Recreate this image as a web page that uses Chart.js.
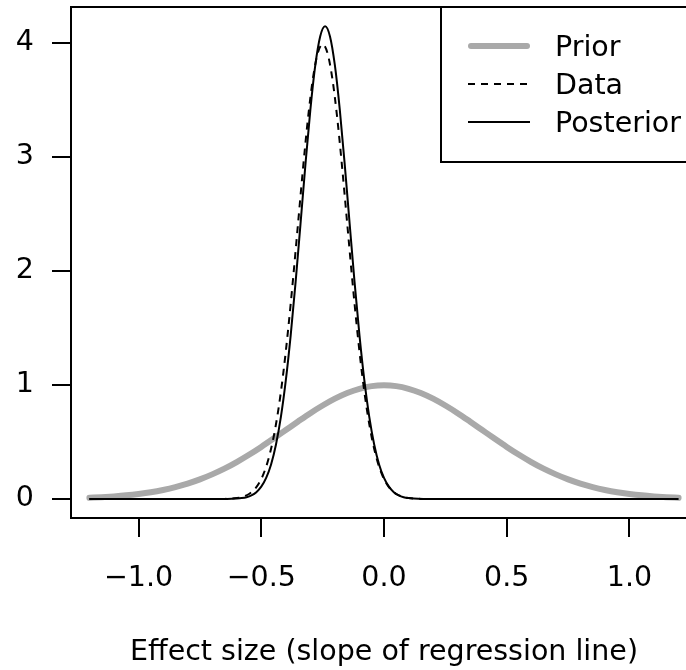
<!DOCTYPE html>
<html>
<head>
<meta charset="utf-8">
<script src="https://cdn.jsdelivr.net/npm/chart.js@4.4.1/dist/chart.umd.min.js"></script>
<style>
  html, body { margin: 0; padding: 0; background: #fff; overflow: hidden; }
  #wrap { width: 700px; height: 670px; }
</style>
</head>
<body>
<div id="wrap"><canvas id="densityChart" width="700" height="670"></canvas></div>
<script>
// Valeurs
const priorX = [-1.2, -1.15, -1.1, -1.05, -1.0, -0.95, -0.9, -0.85, -0.8, -0.75, -0.7, -0.65, -0.6, -0.55, -0.5, -0.45, -0.4, -0.35, -0.3, -0.25, -0.2, -0.15, -0.1, -0.05,
    0, 0.05, 0.1, 0.15, 0.2, 0.25, 0.3, 0.35, 0.4, 0.45, 0.5, 0.55, 0.6, 0.65, 0.7, 0.75, 0.8, 0.85, 0.9, 0.95, 1.0, 1.05, 1.1, 1.15, 1.2];
const priorY = [0.011, 0.016, 0.023, 0.032, 0.044, 0.059, 0.079, 0.104, 0.135, 0.172, 0.216, 0.266, 0.324, 0.388, 0.457, 0.530, 0.605, 0.680, 0.753, 0.820, 0.880, 0.930, 0.967, 0.990,
    0.997, 0.990, 0.967, 0.930, 0.880, 0.820, 0.753, 0.680, 0.605, 0.530, 0.457, 0.388, 0.324, 0.266, 0.216, 0.172, 0.135, 0.104, 0.079, 0.059, 0.044, 0.032, 0.023, 0.016, 0.011];

const dataX = [-1.2, -1.0, -0.8, -0.65, -0.63, -0.61, -0.59, -0.57, -0.55, -0.53, -0.51, -0.49, -0.47, -0.45, -0.43, -0.41, -0.39, -0.37, -0.35, -0.33, -0.31, -0.29, -0.27,
    -0.25, -0.23, -0.21, -0.19, -0.17, -0.15, -0.13, -0.11, -0.09, -0.07, -0.05, -0.03, -0.01, 0.01, 0.03, 0.05, 0.07, 0.09, 0.11, 0.13, 0.15, 0.3, 0.5, 0.8, 1.0, 1.2];
const dataY = [0, 0, 0, 0.001, 0.003, 0.006, 0.012, 0.024, 0.044, 0.079, 0.136, 0.224, 0.355, 0.540, 0.789, 1.109, 1.497, 1.942, 2.420, 2.897, 3.332, 3.682, 3.910,
    3.989, 3.910, 3.682, 3.332, 2.897, 2.420, 1.942, 1.497, 1.109, 0.789, 0.540, 0.355, 0.224, 0.136, 0.079, 0.044, 0.024, 0.012, 0.006, 0.003, 0.001, 0, 0, 0, 0, 0];

const posteriorX = [-1.2, -1.0, -0.8, -0.64, -0.62, -0.60, -0.58, -0.56, -0.54, -0.52, -0.50, -0.48, -0.46, -0.44, -0.42, -0.40, -0.38, -0.36, -0.34, -0.32, -0.30, -0.28, -0.26,
    -0.24, -0.22, -0.20, -0.18, -0.16, -0.14, -0.12, -0.10, -0.08, -0.06, -0.04, -0.02, 0.00, 0.02, 0.04, 0.06, 0.08, 0.10, 0.12, 0.14, 0.16, 0.3, 0.5, 0.8, 1.0, 1.2];
const posteriorY = [0, 0, 0, 0.001, 0.002, 0.004, 0.008, 0.016, 0.032, 0.060, 0.108, 0.185, 0.303, 0.478, 0.720, 1.040, 1.438, 1.905, 2.416, 2.935, 3.414, 3.803, 4.058,
    4.147, 4.058, 3.803, 3.414, 2.935, 2.416, 1.905, 1.438, 1.040, 0.720, 0.478, 0.303, 0.185, 0.108, 0.060, 0.032, 0.016, 0.008, 0.004, 0.002, 0.001, 0, 0, 0, 0, 0];

const xTicks = [-1.0, -0.5, 0.0, 0.5, 1.0];
const xTickLabels = ['\u22121.0', '\u22120.5', '0.0', '0.5', '1.0'];
const yTicks = [0, 1, 2, 3, 4];
const seriesLabels = ['Prior', 'Data', 'Posterior'];
const xTitle = 'Effect size (slope of regression line)';

document.addEventListener('DOMContentLoaded', function() {
    const FONT = '"DejaVu Sans", "Liberation Sans", Arial, sans-serif';
    const SIZE = 28.5;

    function toPoints(xs, ys) {
        return xs.map((x, i) => ({ x: x, y: ys[i] }));
    }

    // Cadre autour de la zone de tracé (style R)
    const plotBox = {
        id: 'plotBox',
        afterDatasetsDraw(chart) {
            const a = chart.chartArea;
            const ctx = chart.ctx;
            ctx.save();
            ctx.strokeStyle = '#000';
            ctx.lineWidth = 2;
            ctx.strokeRect(a.left, a.top, a.right - a.left, a.bottom - a.top);
            ctx.restore();
        }
    };

    // Légende encadrée en haut à droite
    const boxLegend = {
        id: 'boxLegend',
        afterDraw(chart) {
            const ctx = chart.ctx;
            const rows = [46, 84, 122];
            ctx.save();
            ctx.fillStyle = '#fff';
            ctx.fillRect(441, 7, 300, 155);
            ctx.strokeStyle = '#000';
            ctx.lineWidth = 2;
            ctx.strokeRect(441, 7, 300, 155);
            seriesLabels.forEach((label, i) => {
                const ds = chart.data.datasets.find(d => d.label === label);
                ctx.beginPath();
                ctx.strokeStyle = ds.borderColor;
                ctx.lineWidth = ds.borderWidth;
                ctx.lineCap = ds.borderCapStyle || 'butt';
                ctx.setLineDash(ds.borderDash || []);
                const x0 = ds.borderCapStyle === 'round' ? 471 : 468;
                const x1 = ds.borderCapStyle === 'round' ? 527 : 530;
                ctx.moveTo(x0, rows[i]);
                ctx.lineTo(x1, rows[i]);
                ctx.stroke();
                ctx.setLineDash([]);
                ctx.fillStyle = '#000';
                ctx.font = SIZE + 'px ' + FONT;
                ctx.textAlign = 'left';
                ctx.textBaseline = 'middle';
                ctx.fillText(label, 555, rows[i] + 2.5);
            });
            ctx.restore();
        }
    };

    const axisGrid = {
        drawOnChartArea: false,
        drawTicks: true,
        tickLength: 19,
        tickColor: '#000',
        tickWidth: 2,
        color: '#000',
        lineWidth: 2
    };

    const config = {
        type: 'line',
        data: {
            datasets: [{
                label: seriesLabels[0],
                data: toPoints(priorX, priorY),
                borderColor: '#a9a9a9',
                borderWidth: 6,
                borderCapStyle: 'round',
                order: 3
            }, {
                label: seriesLabels[1],
                data: toPoints(dataX, dataY),
                borderColor: '#000',
                borderWidth: 2,
                borderDash: [7, 6],
                order: 2
            }, {
                label: seriesLabels[2],
                data: toPoints(posteriorX, posteriorY),
                borderColor: '#000',
                borderWidth: 2,
                order: 1
            }]
        },
        options: {
            responsive: false,
            animation: false,
            devicePixelRatio: 1,
            layout: { padding: { top: 7, right: 3, bottom: 0, left: 0 } },
            elements: {
                point: { radius: 0 },
                line: { cubicInterpolationMode: 'monotone', fill: false }
            },
            plugins: {
                legend: { display: false },
                tooltip: { enabled: false },
                title: { display: false }
            },
            scales: {
                x: {
                    type: 'linear',
                    min: -1.275,
                    max: 1.275,
                    afterBuildTicks: scale => { scale.ticks = xTicks.map(v => ({ value: v })); },
                    afterFit: scale => {
                        scale.height = 152;
                        scale.paddingLeft = 0;
                        scale.paddingRight = 0;
                    },
                    border: { display: false },
                    grid: axisGrid,
                    ticks: {
                        autoSkip: false,
                        maxRotation: 0,
                        padding: 24,
                        color: '#000',
                        font: { family: FONT, size: SIZE },
                        callback: (v, i) => xTickLabels[i]
                    },
                    title: {
                        display: true,
                        text: xTitle,
                        color: '#000',
                        font: { family: FONT, size: SIZE },
                        padding: { top: 0, bottom: 0 }
                    }
                },
                y: {
                    type: 'linear',
                    min: -0.1667,
                    max: 4.316,
                    afterBuildTicks: scale => { scale.ticks = yTicks.map(v => ({ value: v })); },
                    afterFit: scale => {
                        scale.width = 71;
                        scale.paddingTop = 0;
                        scale.paddingBottom = 0;
                    },
                    border: { display: false },
                    grid: axisGrid,
                    ticks: {
                        autoSkip: false,
                        padding: 18,
                        color: '#000',
                        font: { family: FONT, size: SIZE },
                        callback: v => String(v)
                    }
                }
            }
        },
        plugins: [plotBox, boxLegend]
    };

    new Chart(document.getElementById('densityChart'), config);
});
</script>
</body>
</html>
